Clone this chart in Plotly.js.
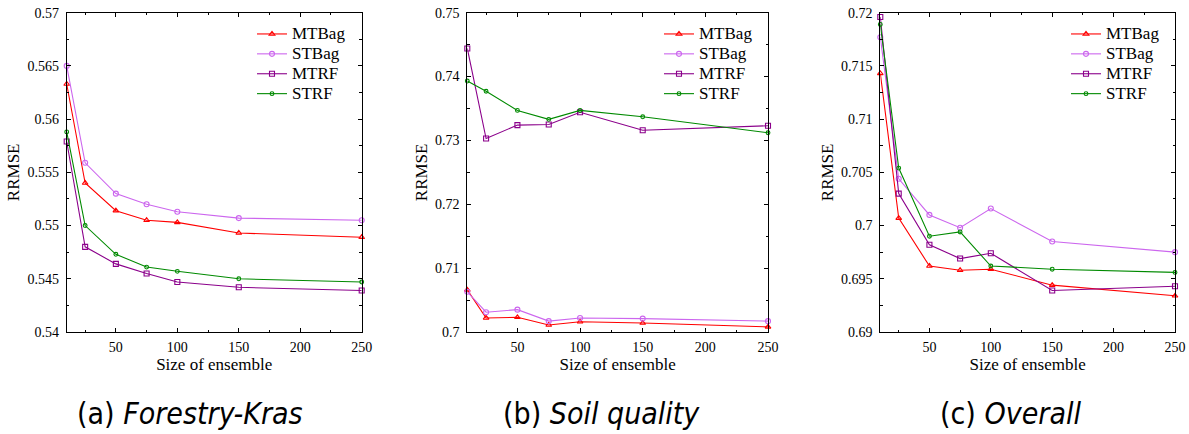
<!DOCTYPE html>
<html>
<head>
<meta charset="utf-8">
<script src="https://cdn.plot.ly/plotly-3.0.1.min.js"></script>
<style>html,body{margin:0;padding:0;background:#fff;}#chart{width:1189px;height:434px;}</style>
</head>
<body>
<div id="chart"></div>
<script>
// ---- data ----
const ensembleSizes = [10, 25, 50, 75, 100, 150, 250];
const seriesNames = ['MTBag', 'STBag', 'MTRF', 'STRF'];

// (a) Forestry-Kras
const forestryMTBag = [0.5633, 0.5540, 0.5514, 0.5505, 0.5503, 0.5493, 0.5489];
const forestrySTBag = [0.5650, 0.5559, 0.5530, 0.5520, 0.5513, 0.5507, 0.5505];
const forestryMTRF  = [0.5579, 0.5480, 0.5464, 0.5455, 0.5447, 0.5442, 0.5439];
const forestrySTRF  = [0.5588, 0.5500, 0.5473, 0.5461, 0.5457, 0.5450, 0.5447];

// (b) Soil quality
const soilMTBag = [0.7066, 0.7022, 0.7023, 0.7011, 0.7016, 0.7014, 0.7008];
const soilSTBag = [0.7063, 0.7031, 0.7035, 0.7017, 0.7022, 0.7021, 0.7017];
const soilMTRF  = [0.7444, 0.7303, 0.7324, 0.7325, 0.7344, 0.7316, 0.7323];
const soilSTRF  = [0.7393, 0.7377, 0.7347, 0.7333, 0.7347, 0.7337, 0.7312];

// (c) Overall
const overallMTBag = [0.7143, 0.7007, 0.6962, 0.6958, 0.6959, 0.6944, 0.6934];
const overallSTBag = [0.7177, 0.7044, 0.7010, 0.6998, 0.7016, 0.6985, 0.6975];
const overallMTRF  = [0.7196, 0.7030, 0.6982, 0.6969, 0.6974, 0.6939, 0.6943];
const overallSTRF  = [0.7189, 0.7054, 0.6990, 0.6994, 0.6962, 0.6959, 0.6956];

const captions = ['(a) <i>Forestry-Kras</i>', '(b) <i>Soil quality</i>', '(c) <i>Overall</i>'];
const xTitle = 'Size of ensemble';
const yTitle = 'RRMSE';

// ---- styling ----
const colors = ['#ff0000', '#cc66ee', '#8b008b', '#008a00'];
const symbols = ['triangle-up-open', 'circle-open', 'square-open', 'circle-open'];
const msizes = [5, 5, 5, 3.8];

const panels = [
  {data: [forestryMTBag, forestrySTBag, forestryMTRF, forestrySTRF], range: [0.54, 0.57], dtick: 0.005},
  {data: [soilMTBag, soilSTBag, soilMTRF, soilSTRF], range: [0.70, 0.75], dtick: 0.01},
  {data: [overallMTBag, overallSTBag, overallMTRF, overallSTRF], range: [0.69, 0.72], dtick: 0.005}
];

const W = 1189, H = 434;
const xDomainsPx = [[66.7, 361.7], [467.3, 768], [880.3, 1175]];
const yTopPx = 12.7, yBotPx = 332;
const legendXpx = [252, 659, 1066];
const titleStandoff = [3, 3, 3];
const captionX = [190, 601, 1010];

const serif = 'Liberation Serif, Times New Roman, serif';
const traces = [];
const layout = {
  width: W, height: H,
  margin: {l: 0, r: 0, t: 0, b: 0},
  paper_bgcolor: '#ffffff', plot_bgcolor: '#ffffff',
  font: {family: serif, size: 14, color: '#000'},
  showlegend: true,
  annotations: []
};

panels.forEach((p, i) => {
  const ax = i === 0 ? '' : String(i + 1);
  const legendName = i === 0 ? 'legend' : 'legend' + (i + 1);
  p.data.forEach((ys, k) => {
    traces.push({
      x: ensembleSizes, y: ys,
      name: '<span style="font-size:17px">' + seriesNames[k] + '</span>',
      type: 'scatter', mode: 'lines+markers',
      xaxis: 'x' + ax, yaxis: 'y' + ax, legend: legendName,
      line: {color: colors[k], width: 1.1},
      marker: {symbol: symbols[k], size: msizes[k], color: colors[k], line: {width: 1.1, color: colors[k]}},
      cliponaxis: false
    });
  });
  const dom = xDomainsPx[i];
  layout['xaxis' + ax] = {
    domain: [dom[0] / W, dom[1] / W], anchor: 'y' + ax,
    range: [10, 250], tick0: 0, dtick: 50, ticks: 'inside', ticklen: 4, tickwidth: 1, tickcolor: '#000',
    minor: {dtick: 25, tick0: 0, ticks: 'inside', ticklen: 2.5, tickwidth: 1, tickcolor: '#000'},
    showline: true, linecolor: '#000', linewidth: 1, mirror: 'allticks',
    showgrid: false, zeroline: false,
    tickfont: {family: serif, size: 14, color: '#000'},
    ticklabelstandoff: 2,
    title: {text: xTitle, font: {family: serif, size: 17, color: '#000'}, standoff: 4},
    fixedrange: true
  };
  layout['yaxis' + ax] = {
    domain: [1 - yBotPx / H, 1 - yTopPx / H], anchor: 'x' + ax,
    range: p.range, tick0: 0, dtick: p.dtick, ticks: 'inside', ticklen: 4, tickwidth: 1, tickcolor: '#000',
    minor: {dtick: p.dtick / 2, ticks: 'inside', ticklen: 2.5, tickwidth: 1, tickcolor: '#000'},
    showline: true, linecolor: '#000', linewidth: 1, mirror: 'allticks',
    showgrid: false, zeroline: false,
    tickfont: {family: serif, size: 14, color: '#000'},
    ticklabelstandoff: 4,
    title: {text: yTitle, font: {family: serif, size: 17, color: '#000'}, standoff: titleStandoff[i]},
    fixedrange: true
  };
  layout[legendName] = {
    x: legendXpx[i] / W, y: 1 - 19 / H, xanchor: 'left', yanchor: 'top',
    bgcolor: 'rgba(0,0,0,0)', borderwidth: 0,
    font: {family: serif, size: 13, color: '#000'},
    itemwidth: 30, tracegroupgap: 0
  };
  layout.annotations.push({
    xref: 'paper', yref: 'paper', x: captionX[i] / W, y: 1 - 413 / H,
    xanchor: 'center', yanchor: 'middle', showarrow: false,
    text: captions[i],
    font: {family: 'DejaVu Sans Condensed, DejaVu Sans, sans-serif', size: 30, color: '#000'}
  });
});

Plotly.newPlot('chart', traces, layout, {staticPlot: true, displayModeBar: false});
</script>
</body>
</html>
